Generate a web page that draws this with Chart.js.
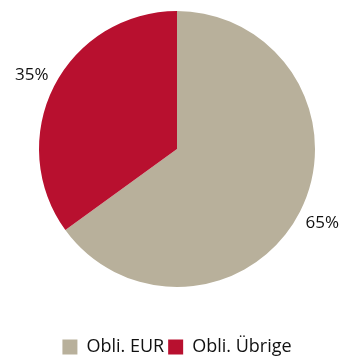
<!DOCTYPE html>
<html>
<head>
<meta charset="utf-8">
<script src="https://cdn.jsdelivr.net/npm/chart.js@4"></script>
<style>
  html, body { margin: 0; padding: 0; background: #fff; }
  #wrap { width: 340px; height: 356px; }
</style>
</head>
<body>
<div id="wrap"><canvas id="c" width="340" height="356"></canvas></div>
<script>
// data
var labels = ['Obli. EUR', 'Obli. Übrige'];
var values = [65, 35];
var colors = ['#b8b09b', '#b8102f'];

// keep the pie up top, push the legend to the very bottom
var pieArea = {
    id: 'pieArea',
    afterLayout: function (chart) {
        chart.chartArea.top = 11;
        chart.chartArea.bottom = 287;
        chart.chartArea.height = 276;
        chart.legend.top += 10;
        chart.legend.bottom += 10;
    }
};

// percent labels outside the pie
var outLabels = {
    id: 'outLabels',
    afterDatasetsDraw: function (chart) {
        var ctx = chart.ctx;
        var meta = chart.getDatasetMeta(0);
        ctx.save();
        ctx.font = '17px "Open Sans"';
        ctx.fillStyle = '#111';
        ctx.textAlign = 'center';
        ctx.textBaseline = 'middle';
        meta.data.forEach(function (arc, i) {
            var mid = (arc.startAngle + arc.endAngle) / 2;
            var r = arc.outerRadius + 25;
            ctx.fillText(values[i] + '%', arc.x + Math.cos(mid) * r, arc.y + Math.sin(mid) * r);
        });
        ctx.restore();
    }
};

var chart = new Chart(document.getElementById('c').getContext('2d'), {
    type: 'pie',
    data: {
        labels: labels,
        datasets: [{
            data: values,
            backgroundColor: colors,
            borderWidth: 0
        }]
    },
    options: {
        responsive: false,
        animation: false,
        layout: { padding: { left: 14, right: 0, top: 0, bottom: 0 } },
        plugins: {
            tooltip: { enabled: false },
            legend: {
                position: 'bottom',
                labels: {
                    boxWidth: 15,
                    boxHeight: 15,
                    padding: 4,
                    color: '#111',
                    font: { family: 'Open Sans', size: 18 }
                }
            }
        }
    },
    plugins: [pieArea, outLabels]
});
</script>
</body>
</html>
